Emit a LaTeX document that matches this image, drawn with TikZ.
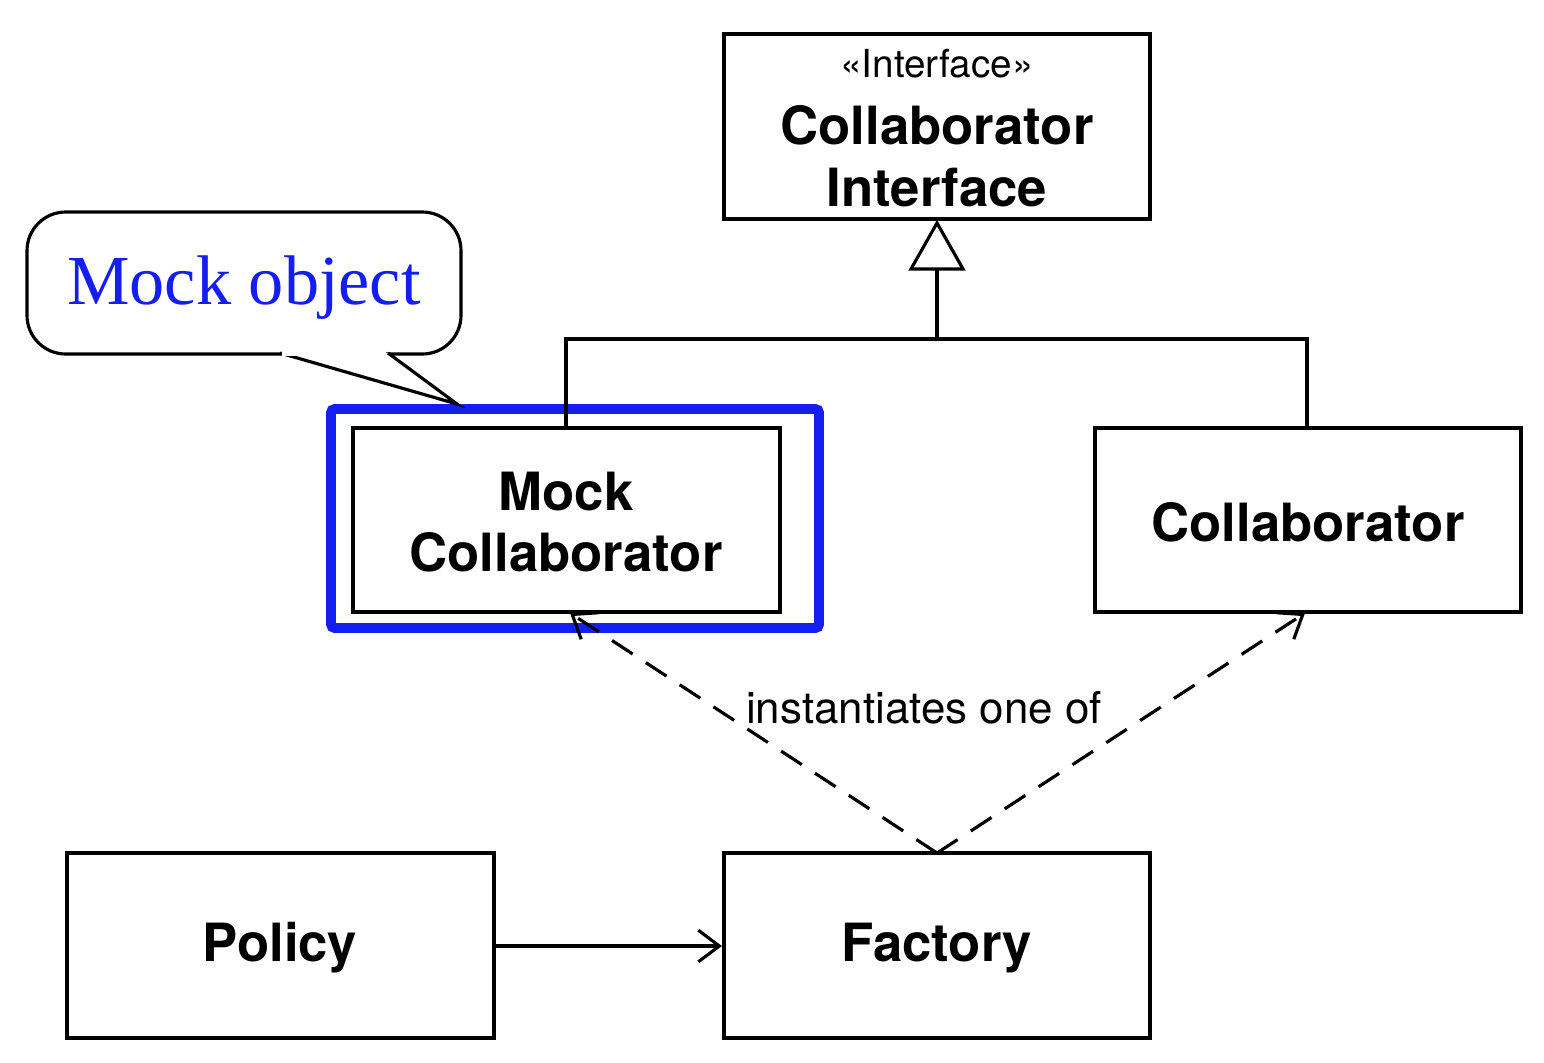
\documentclass[tikz,border=0pt]{standalone}
\usepackage{fontspec}
\setmainfont{TeX Gyre Heros}
\newfontfamily\serifmock{Liberation Serif}
\usetikzlibrary{arrows.meta}
\definecolor{mockblue}{RGB}{20,30,240}
\begin{document}
\begin{tikzpicture}[x=0.02cm,y=-0.02cm,line width=1.8pt,
  box/.style={draw,rectangle},
  lbl/.style={font=\fontsize{30}{35}\selectfont\bfseries,align=center},
  dep/.style={dash pattern=on 14pt off 9pt,-{Straight Barb[length=12pt,width=18pt,line width=1.8pt]}}]
\useasboundingbox (0,0) rectangle (1544,1062);
% boxes
\draw (724,34) rectangle (1150,219);
\node[font=\fontsize{22}{26}\selectfont] (st) at (937,64) {«Interface»};
\node[lbl] (ci) at (937,156) {Collaborator\\Interface};
\draw (353,428) rectangle (780,612);
\node[lbl] (mc) at (566,522) {Mock\\Collaborator};
\draw (1095,428) rectangle (1521,612);
\node[lbl] (co) at (1308,522) {Collaborator};
\draw (67,853) rectangle (494,1038);
\node[lbl] (po) at (280,948) {Policy};
\draw (724,853) rectangle (1150,1038);
\node[lbl] (fa) at (937,948) {Factory};
% blue frame
\draw[mockblue,line width=5.5pt,rounded corners=2pt] (331,409) rectangle (819,628);
% inheritance
\draw[fill=white] (937,223) -- (963,269) -- (911,269) -- cycle;
\draw (937,269) -- (937,339);
\draw (566,428) -- (566,339) -- (1307,339) -- (1307,428);
% policy -> factory
\coordinate (pR) at (494,946); \coordinate (fL) at (722,946);
\draw[-{Straight Barb[length=12pt,width=18pt,line width=1.8pt]}] (pR) -- (fL);
% dependencies
\coordinate (fT) at (937,853);
\coordinate (mB) at (570,613);
\coordinate (cB) at (1305,613);
\draw[dep] (fT) -- (mB);
\draw[dep] (fT) -- (cB);
\node[fill=white,inner sep=1pt,font=\fontsize{25}{29}\selectfont] (inst) at (924,708) {instantiates one of};
% callout
\draw[fill=white,rounded corners=22pt] (27,212) rectangle (461,354);
\draw[fill=white,line join=miter] (280,353) -- (457,404) -- (388,353);
\draw[white,line width=2pt] (282,354) -- (386,354);
\node[mockblue,font=\serifmock\fontsize{40}{46}\selectfont] (mo) at (244,288) {Mock object};
\end{tikzpicture}
\end{document}
